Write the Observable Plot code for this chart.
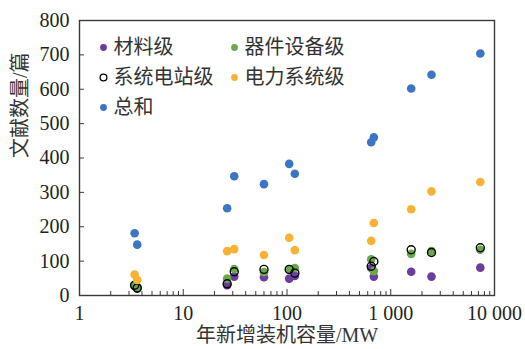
<!DOCTYPE html>
<html>
<head>
<meta charset="utf-8">
<script src="https://cdn.jsdelivr.net/npm/d3@7"></script>
<script src="https://cdn.jsdelivr.net/npm/@observablehq/plot@0.6"></script>
<style>
  html, body { margin: 0; padding: 0; background: #fff; }
</style>
</head>
<body>
<div id="chart"></div>
<script>
// Annual newly installed capacity (MW) for each observation
const capacity = [3.4, 3.6, 26.5, 31, 60, 105, 119, 648, 687, 1574, 2470, 7300];
// Number of papers per level
const material = [27, 20, 30, 55, 53, 49, 57, 80, 55, 69, 55, 81];
const device   = [30, 25, 49, 77, 68, 75, 80, 105, 71, 121, 129, 133];
const station  = [30, 22, 34, 69, 76, 76, 65, 85, 99, 133, 125, 139];
const system   = [61, 45, 129, 135, 118, 168, 132, 159, 211, 251, 303, 330];
const total    = [181, 148, 254, 347, 324, 383, 354, 446, 460, 602, 642, 704];

const seriesNames = ["材料级", "器件设备级", "系统电站级", "电力系统级", "总和"];
const xTicks = [1, 10, 100, 1000, 10000];
const xTickLabels = ["1", "10", "100", "1 000", "10 000"];
const yTicks = [0, 100, 200, 300, 400, 500, 600, 700, 800];
const xTitle = "年新增装机容量/MW";
const yTitle = "文献数量/篇";

const colors = {
  "材料级": "#6a3d9e",
  "器件设备级": "#6aa84a",
  "系统电站级": "#000000",
  "电力系统级": "#f8b233",
  "总和": "#3b75c4"
};

const mk = (vals) => capacity.map((c, i) => ({x: c, y: vals[i]}));
const dMaterial = mk(material), dDevice = mk(device), dStation = mk(station),
      dSystem = mk(system), dTotal = mk(total);

// minor ticks on the log axis
const xMinor = [];
for (let p = 1; p < 10000; p *= 10) for (let k = 2; k <= 9; k++) xMinor.push(p * k);

const font = "'Liberation Serif', 'Noto Sans CJK SC', serif";
const ink = "#231f20";

// legend layout (pixels relative to the plot frame)
const legendPos = [
  {dx: 24, dy: 27}, {dx: 155, dy: 27},
  {dx: 24, dy: 57}, {dx: 155, dy: 57},
  {dx: 24, dy: 87}
];
const legendMarks = seriesNames.flatMap((name, i) => {
  const p = legendPos[i];
  const open = name === "系统电站级";
  return [
    Plot.dot([name], {frameAnchor: "top-left", dx: p.dx, dy: p.dy, r: 3.4,
      fill: open ? "none" : colors[name], stroke: open ? "#000" : "none", strokeWidth: 1.3}),
    Plot.text([name], {frameAnchor: "top-left", dx: p.dx + 10, dy: p.dy, text: d => d,
      textAnchor: "start", lineAnchor: "middle", fontSize: 20, fill: "#333",
      fontFamily: "'Noto Sans CJK SC', sans-serif"})
  ];
});

const chart = Plot.plot({
  width: 525,
  height: 349,
  marginLeft: 79,
  marginRight: 31,
  marginTop: 20,
  marginBottom: 54,
  style: {fontFamily: font, fontSize: "20px", color: ink, background: "#fff"},
  x: {type: "log", domain: [1, 10000]},
  y: {domain: [0, 800]},
  marks: [
    Plot.frame({stroke: "#3a3a3a", strokeWidth: 1.4}),
    // y axis: labels and inward ticks
    Plot.axisY({ticks: yTicks, tickSize: 0, tickPadding: 10, label: null, fontSize: 20, fill: ink}),
    Plot.axisY({ticks: yTicks, tickSize: -5, tickFormat: () => "", label: null, stroke: "#3a3a3a"}),
    // x axis: labels, major and minor inward ticks
    Plot.axisX({ticks: xTicks, tickSize: 0, tickPadding: 10, label: null, fontSize: 20, fill: ink,
      tickFormat: (d) => xTickLabels[xTicks.indexOf(d)]}),
    Plot.axisX({ticks: xTicks, tickSize: -6, tickFormat: () => "", label: null, stroke: "#3a3a3a"}),
    Plot.axisX({ticks: xMinor, tickSize: -4, tickFormat: () => "", label: null, stroke: "#3a3a3a"}),
    // axis titles
    Plot.text([yTitle], {frameAnchor: "left", dx: -59, rotate: -90, text: d => d,
      fontSize: 20, fill: "#333", fontFamily: font}),
    Plot.text([xTitle], {frameAnchor: "bottom", dy: 46, text: d => d,
      fontSize: 20, fill: "#333", fontFamily: font}),
    // data
    Plot.dot(dMaterial, {x: "x", y: "y", r: 4.3, fill: colors["材料级"]}),
    Plot.dot(dDevice, {x: "x", y: "y", r: 4.3, fill: colors["器件设备级"]}),
    Plot.dot(dStation, {x: "x", y: "y", r: 4, fill: "none", stroke: "#000", strokeWidth: 1.4}),
    Plot.dot(dSystem, {x: "x", y: "y", r: 4.3, fill: colors["电力系统级"]}),
    Plot.dot(dTotal, {x: "x", y: "y", r: 4.3, fill: colors["总和"]}),
    ...legendMarks
  ]
});

document.getElementById("chart").appendChild(chart);
</script>
</body>
</html>
